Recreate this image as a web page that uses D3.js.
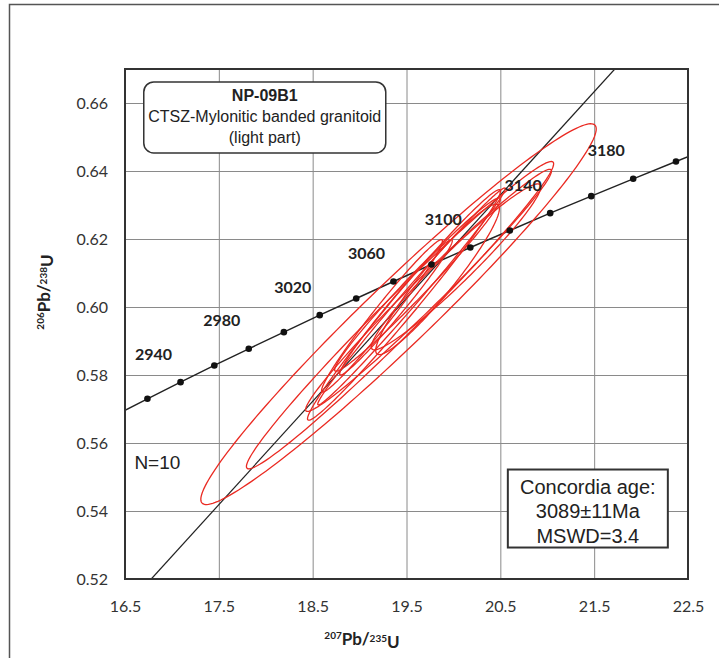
<!DOCTYPE html>
<html>
<head>
<meta charset="utf-8">
<script src="https://cdn.jsdelivr.net/npm/d3@7"></script>
<style>
  body { margin: 0; background: #fff; }
  svg { display: block; }
  .tick-label { font-family: Lato, "Open Sans", sans-serif; font-size: 16px; fill: #333; }
  .axis-title { font-family: Lato, "Open Sans", sans-serif; font-weight: bold; fill: #222; }
  .age-label { font-family: Lato, "Open Sans", sans-serif; font-weight: bold; font-size: 16px; fill: #222; }
  .box-text { font-family: "Liberation Sans", Arial, sans-serif; fill: #222; }
</style>
</head>
<body>
<svg id="concordia" width="719" height="658"></svg>
<script>
// axis ticks
const xTicks = [16.5, 17.5, 18.5, 19.5, 20.5, 21.5, 22.5];
const yTicks = [0.52, 0.54, 0.56, 0.58, 0.60, 0.62, 0.64, 0.66];

// concordia curve, dots every 20 Ma
const concordiaAge = [2920, 2940, 2960, 2980, 3000, 3020, 3040, 3060, 3080, 3100, 3120, 3140, 3160, 3180, 3200];
const concordiaX = [16.739, 17.092, 17.452, 17.819, 18.193, 18.575, 18.964, 19.361, 19.766, 20.180, 20.601, 21.031, 21.469, 21.916, 22.372];
const concordiaY = [0.5730, 0.5779, 0.5828, 0.5877, 0.5926, 0.5976, 0.6025, 0.6075, 0.6125, 0.6175, 0.6225, 0.6276, 0.6326, 0.6377, 0.6428];
const concordiaEnds = [[16.5, 0.5696], [22.5, 0.6442]];
const labelledAges = [2940, 2980, 3020, 3060, 3100, 3140, 3180];

// discordia reference line
const discordia = [[16.78, 0.52], [21.72, 0.67]];

// analyses: centre, half-widths and error correlation
const ellX   = [19.415, 19.431, 19.735, 19.473, 19.617, 19.388, 20.028, 19.831, 19.239, 19.553];
const ellY   = [0.5979, 0.5976, 0.6049, 0.6006, 0.6066, 0.5999, 0.6118, 0.6081, 0.5974, 0.6031];
const ellSx  = [2.107, 1.637, 1.310, 1.028, 0.883, 0.600, 0.903, 0.659, 0.644, 0.999];
const ellSy  = [0.0560, 0.0452, 0.0356, 0.0339, 0.0255, 0.0199, 0.0244, 0.0221, 0.0224, 0.0319];
const ellRho = [0.9727, 0.9847, 0.9854, 0.9870, 0.9838, 0.9836, 0.9641, 0.9438, 0.9810, 0.9932];

const sampleLines = ["NP-09B1", "CTSZ-Mylonitic banded granitoid", "(light part)"];
const resultLines = ["Concordia age:", "3089\u00b111Ma", "MSWD=3.4"];
const nLabel = "N=10";

const margin = { top: 69, left: 125, right: 31, bottom: 79 };
const W = 719, H = 658;
const width = W - margin.left - margin.right;
const height = H - margin.top - margin.bottom;

const svg = d3.select('svg#concordia');

// outer frame
svg.append('path')
    .attr('d', `M9.5,${H} V4.5 H${W}`)
    .attr('fill', 'none')
    .attr('stroke', '#555')
    .attr('stroke-width', 1.5);

const xScale = d3.scaleLinear().domain([16.5, 22.5]).range([0, width]);
const yScale = d3.scaleLinear().domain([0.52, 0.67]).range([height, 0]);

const g = svg.append('g')
    .attr('transform', `translate(${margin.left},${margin.top})`);

g.append('clipPath').attr('id', 'plot-clip')
  .append('rect').attr('width', width).attr('height', height);

// grid
g.append('g').attr('class', 'grid')
    .call(d3.axisBottom(xScale).tickValues(xTicks).tickSize(height).tickFormat(''))
    .call(a => a.select('.domain').remove())
    .call(a => a.selectAll('line').attr('stroke', '#8a8a8a').attr('stroke-width', 1));

g.append('g').attr('class', 'grid')
    .call(d3.axisLeft(yScale).tickValues(yTicks).tickSize(-width).tickFormat(''))
    .call(a => a.select('.domain').remove())
    .call(a => a.selectAll('line').attr('stroke', '#8a8a8a').attr('stroke-width', 1));

// tick labels
g.append('g')
    .attr('transform', `translate(0,${height})`)
    .call(d3.axisBottom(xScale).tickValues(xTicks).tickSize(0).tickPadding(22).tickFormat(d3.format('.1f')))
    .call(a => a.select('.domain').remove())
    .call(a => a.selectAll('text').attr('class', 'tick-label').attr('fill', null).attr('font-size', null).attr('font-family', null));

g.append('g')
    .call(d3.axisLeft(yScale).tickValues(yTicks).tickSize(0).tickPadding(17).tickFormat(d3.format('.2f')))
    .call(a => a.select('.domain').remove())
    .call(a => a.selectAll('text').attr('class', 'tick-label').attr('fill', null).attr('font-size', null).attr('font-family', null));

const plot = g.append('g').attr('clip-path', 'url(#plot-clip)');

// concordia
const curvePts = [concordiaEnds[0]].concat(concordiaX.map((x, i) => [x, concordiaY[i]]), [concordiaEnds[1]]);
const line = d3.line().x(d => xScale(d[0])).y(d => yScale(d[1]));
plot.append('path')
    .attr('d', line(curvePts))
    .attr('fill', 'none')
    .attr('stroke', '#222')
    .attr('stroke-width', 1.4);

plot.append('path')
    .attr('d', line(discordia))
    .attr('fill', 'none')
    .attr('stroke', '#222')
    .attr('stroke-width', 1.2);

// error ellipses
const ellipsePts = i => d3.range(0, 361, 2).map(a => {
    const t = a * Math.PI / 180;
    const x = ellX[i] + ellSx[i] * Math.cos(t);
    const y = ellY[i] + ellSy[i] * (ellRho[i] * Math.cos(t) + Math.sqrt(1 - ellRho[i] * ellRho[i]) * Math.sin(t));
    return [x, y];
});
plot.append('g').selectAll('path')
    .data(d3.range(ellX.length))
    .join('path')
    .attr('d', i => line(ellipsePts(i)) + 'Z')
    .attr('fill', 'none')
    .attr('stroke', '#ea2a22')
    .attr('stroke-width', 1.3);

// dots & age labels
plot.append('g').selectAll('circle')
    .data(concordiaAge)
    .join('circle')
    .attr('cx', (d, i) => xScale(concordiaX[i]))
    .attr('cy', (d, i) => yScale(concordiaY[i]))
    .attr('r', 3.3)
    .attr('fill', '#111');

g.append('g').selectAll('text')
    .data(labelledAges)
    .join('text')
    .attr('class', 'age-label')
    .attr('x', d => xScale(concordiaX[concordiaAge.indexOf(d)]) - 27)
    .attr('y', d => yScale(concordiaY[concordiaAge.indexOf(d)]) - 29)
    .attr('text-anchor', 'middle')
    .attr('dominant-baseline', 'central')
    .text(d => d);

// plot border
g.append('rect')
    .attr('width', width)
    .attr('height', height)
    .attr('fill', 'none')
    .attr('stroke', '#333')
    .attr('stroke-width', 2);

// sample box
const sBox = g.append('g').attr('transform', `translate(${xScale(16.7)},${yScale(0.6662)})`);
sBox.append('rect')
    .attr('width', 242).attr('height', 71)
    .attr('rx', 10)
    .attr('fill', '#fff').attr('stroke', '#333').attr('stroke-width', 1.5);
sBox.selectAll('text')
    .data(sampleLines)
    .join('text')
    .attr('class', 'box-text')
    .attr('x', 121)
    .attr('y', (d, i) => 14 + i * 21)
    .attr('text-anchor', 'middle')
    .attr('dominant-baseline', 'central')
    .attr('font-size', '16px')
    .attr('font-weight', (d, i) => i === 0 ? 'bold' : 'normal')
    .text(d => d);

// result box
const rBox = g.append('g').attr('transform', `translate(${xScale(20.58)},${yScale(0.5522)})`);
rBox.append('rect')
    .attr('width', 160).attr('height', 78)
    .attr('fill', '#fff').attr('stroke', '#333').attr('stroke-width', 2);
rBox.selectAll('text')
    .data(resultLines)
    .join('text')
    .attr('class', 'box-text')
    .attr('x', 80)
    .attr('y', (d, i) => 17 + i * 24.5)
    .attr('text-anchor', 'middle')
    .attr('dominant-baseline', 'central')
    .attr('font-size', '20px')
    .text(d => d);

g.append('text')
    .attr('class', 'box-text')
    .attr('x', xScale(16.6))
    .attr('y', yScale(0.5544))
    .attr('dominant-baseline', 'central')
    .attr('font-size', '19px')
    .attr('fill', '#333')
    .text(nLabel);

// axis titles with superscript isotopes
function isoTitle(sel, m1, e1, m2, e2) {
    sel.append('tspan').attr('font-size', '10px').attr('dy', '-0.6em').text(m1);
    sel.append('tspan').attr('font-size', '17px').attr('dy', '0.38em').text(e1 + '/');
    sel.append('tspan').attr('font-size', '10px').attr('dy', '-0.38em').text(m2);
    sel.append('tspan').attr('font-size', '17px').attr('dy', '0.38em').text(e2);
}

svg.append('text')
    .attr('class', 'axis-title')
    .attr('x', 362).attr('y', 645)
    .attr('text-anchor', 'middle')
    .call(isoTitle, '207', 'Pb', '235', 'U');

svg.append('text')
    .attr('class', 'axis-title')
    .attr('transform', 'translate(50,292) rotate(-90)')
    .attr('text-anchor', 'middle')
    .call(isoTitle, '206', 'Pb', '238', 'U');
</script>
</body>
</html>
